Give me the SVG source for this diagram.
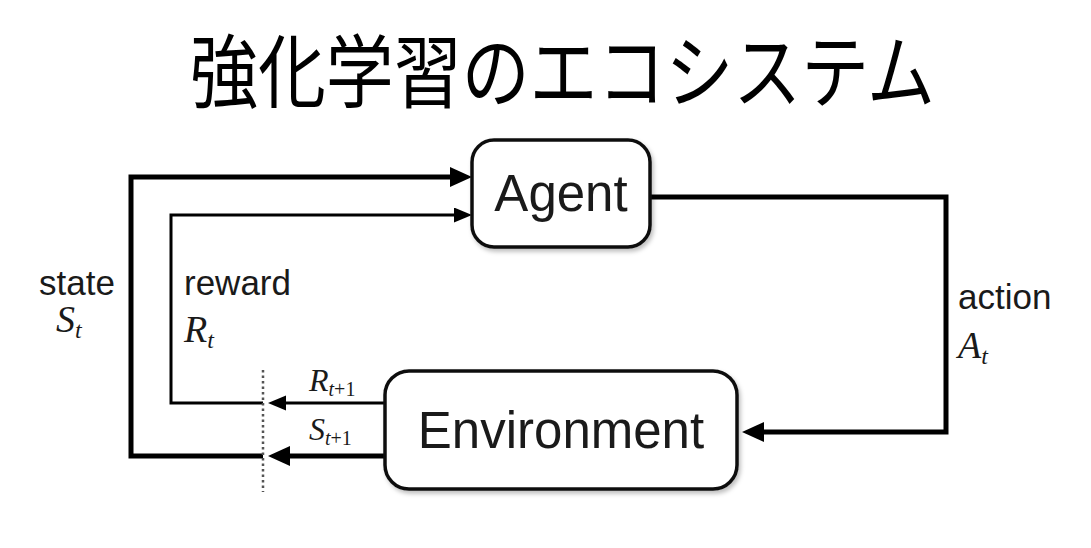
<svg xmlns="http://www.w3.org/2000/svg" width="1091" height="548" viewBox="0 0 1091 548">
<style>
.title{font-family:"Noto Sans CJK JP","Noto Sans CJK SC",sans-serif;font-size:80px;fill:#000}
.box{fill:#fff;stroke:#111;stroke-width:3.5}
.nodetext{font-family:"Liberation Sans",Arial,sans-serif;font-size:51px;fill:#1a1a1a}
.lbl{font-family:"Liberation Sans",Arial,sans-serif;font-size:35px;fill:#1a1a1a}
.math{font-family:"Liberation Serif","Times New Roman",serif;font-style:italic;font-size:38px;fill:#1a1a1a}
.sub{font-size:24px}
.up{font-style:normal}
.thick{fill:none;stroke:#000;stroke-width:5}
.thin{fill:none;stroke:#000;stroke-width:3}
.dot{fill:none;stroke:#555;stroke-width:2.5;stroke-dasharray:2.5 3}
</style>
<defs>
<marker id="ahThick" markerUnits="userSpaceOnUse" markerWidth="24" markerHeight="22" refX="14" refY="10" orient="auto">
<path d="M0,0 L22,10 L0,20 z" fill="#000"/>
</marker>
<marker id="ahThin" markerUnits="userSpaceOnUse" markerWidth="20" markerHeight="16" refX="12" refY="7.5" orient="auto">
<path d="M0,0 L18,7.5 L0,15 z" fill="#000"/>
</marker>
<filter id="sh" x="-10%" y="-10%" width="130%" height="130%">
<feDropShadow dx="2" dy="3" stdDeviation="2" flood-color="#000" flood-opacity="0.25"/>
</filter>
</defs>
<rect width="1091" height="548" fill="#fff"/>
<text class="title" x="190" y="101" textLength="745" lengthAdjust="spacingAndGlyphs">強化学習のエコシステム</text>

<g id="connectors">
<!-- state loop -->
<path class="thick" d="M385,456 H276" marker-end="url(#ahThick)"/>
<path class="thick" d="M263,456 H131 V177 H464" marker-end="url(#ahThick)"/>
<!-- reward loop -->
<path class="thin" d="M385,403 H274" marker-end="url(#ahThin)"/>
<path class="thin" d="M263,403 H171 V215 H466" marker-end="url(#ahThin)"/>
<!-- action -->
<path class="thick" d="M650,197 H946 V432 H750" marker-end="url(#ahThick)"/>
<!-- time boundary -->
<line class="dot" x1="263" y1="370" x2="263" y2="492"/>
</g>

<g id="agent">
<rect class="box" x="472" y="140" width="178" height="107" rx="22" filter="url(#sh)"/>
<text class="nodetext" x="561" y="211" text-anchor="middle">Agent</text>
</g>

<g id="environment">
<rect class="box" x="385" y="371" width="352" height="118" rx="24" filter="url(#sh)"/>
<text class="nodetext" x="561" y="448" text-anchor="middle">Environment</text>
</g>

<g id="labels">
<text class="lbl" x="39" y="295">state</text>
<text class="math" x="56" y="332">S<tspan class="sub" dy="6">t</tspan></text>
<text class="lbl" x="184" y="295">reward</text>
<text class="math" x="184" y="342">R<tspan class="sub" dy="6">t</tspan></text>
<text class="lbl" x="958" y="309">action</text>
<text class="math" x="958" y="358">A<tspan class="sub" dy="6">t</tspan></text>
<text class="math" x="309" y="391" style="font-size:32px">R<tspan class="sub" style="font-size:20px" dy="5">t<tspan class="up">+1</tspan></tspan></text>
<text class="math" x="309" y="440" style="font-size:32px">S<tspan class="sub" style="font-size:20px" dy="5">t<tspan class="up">+1</tspan></tspan></text>
</g>
</svg>
